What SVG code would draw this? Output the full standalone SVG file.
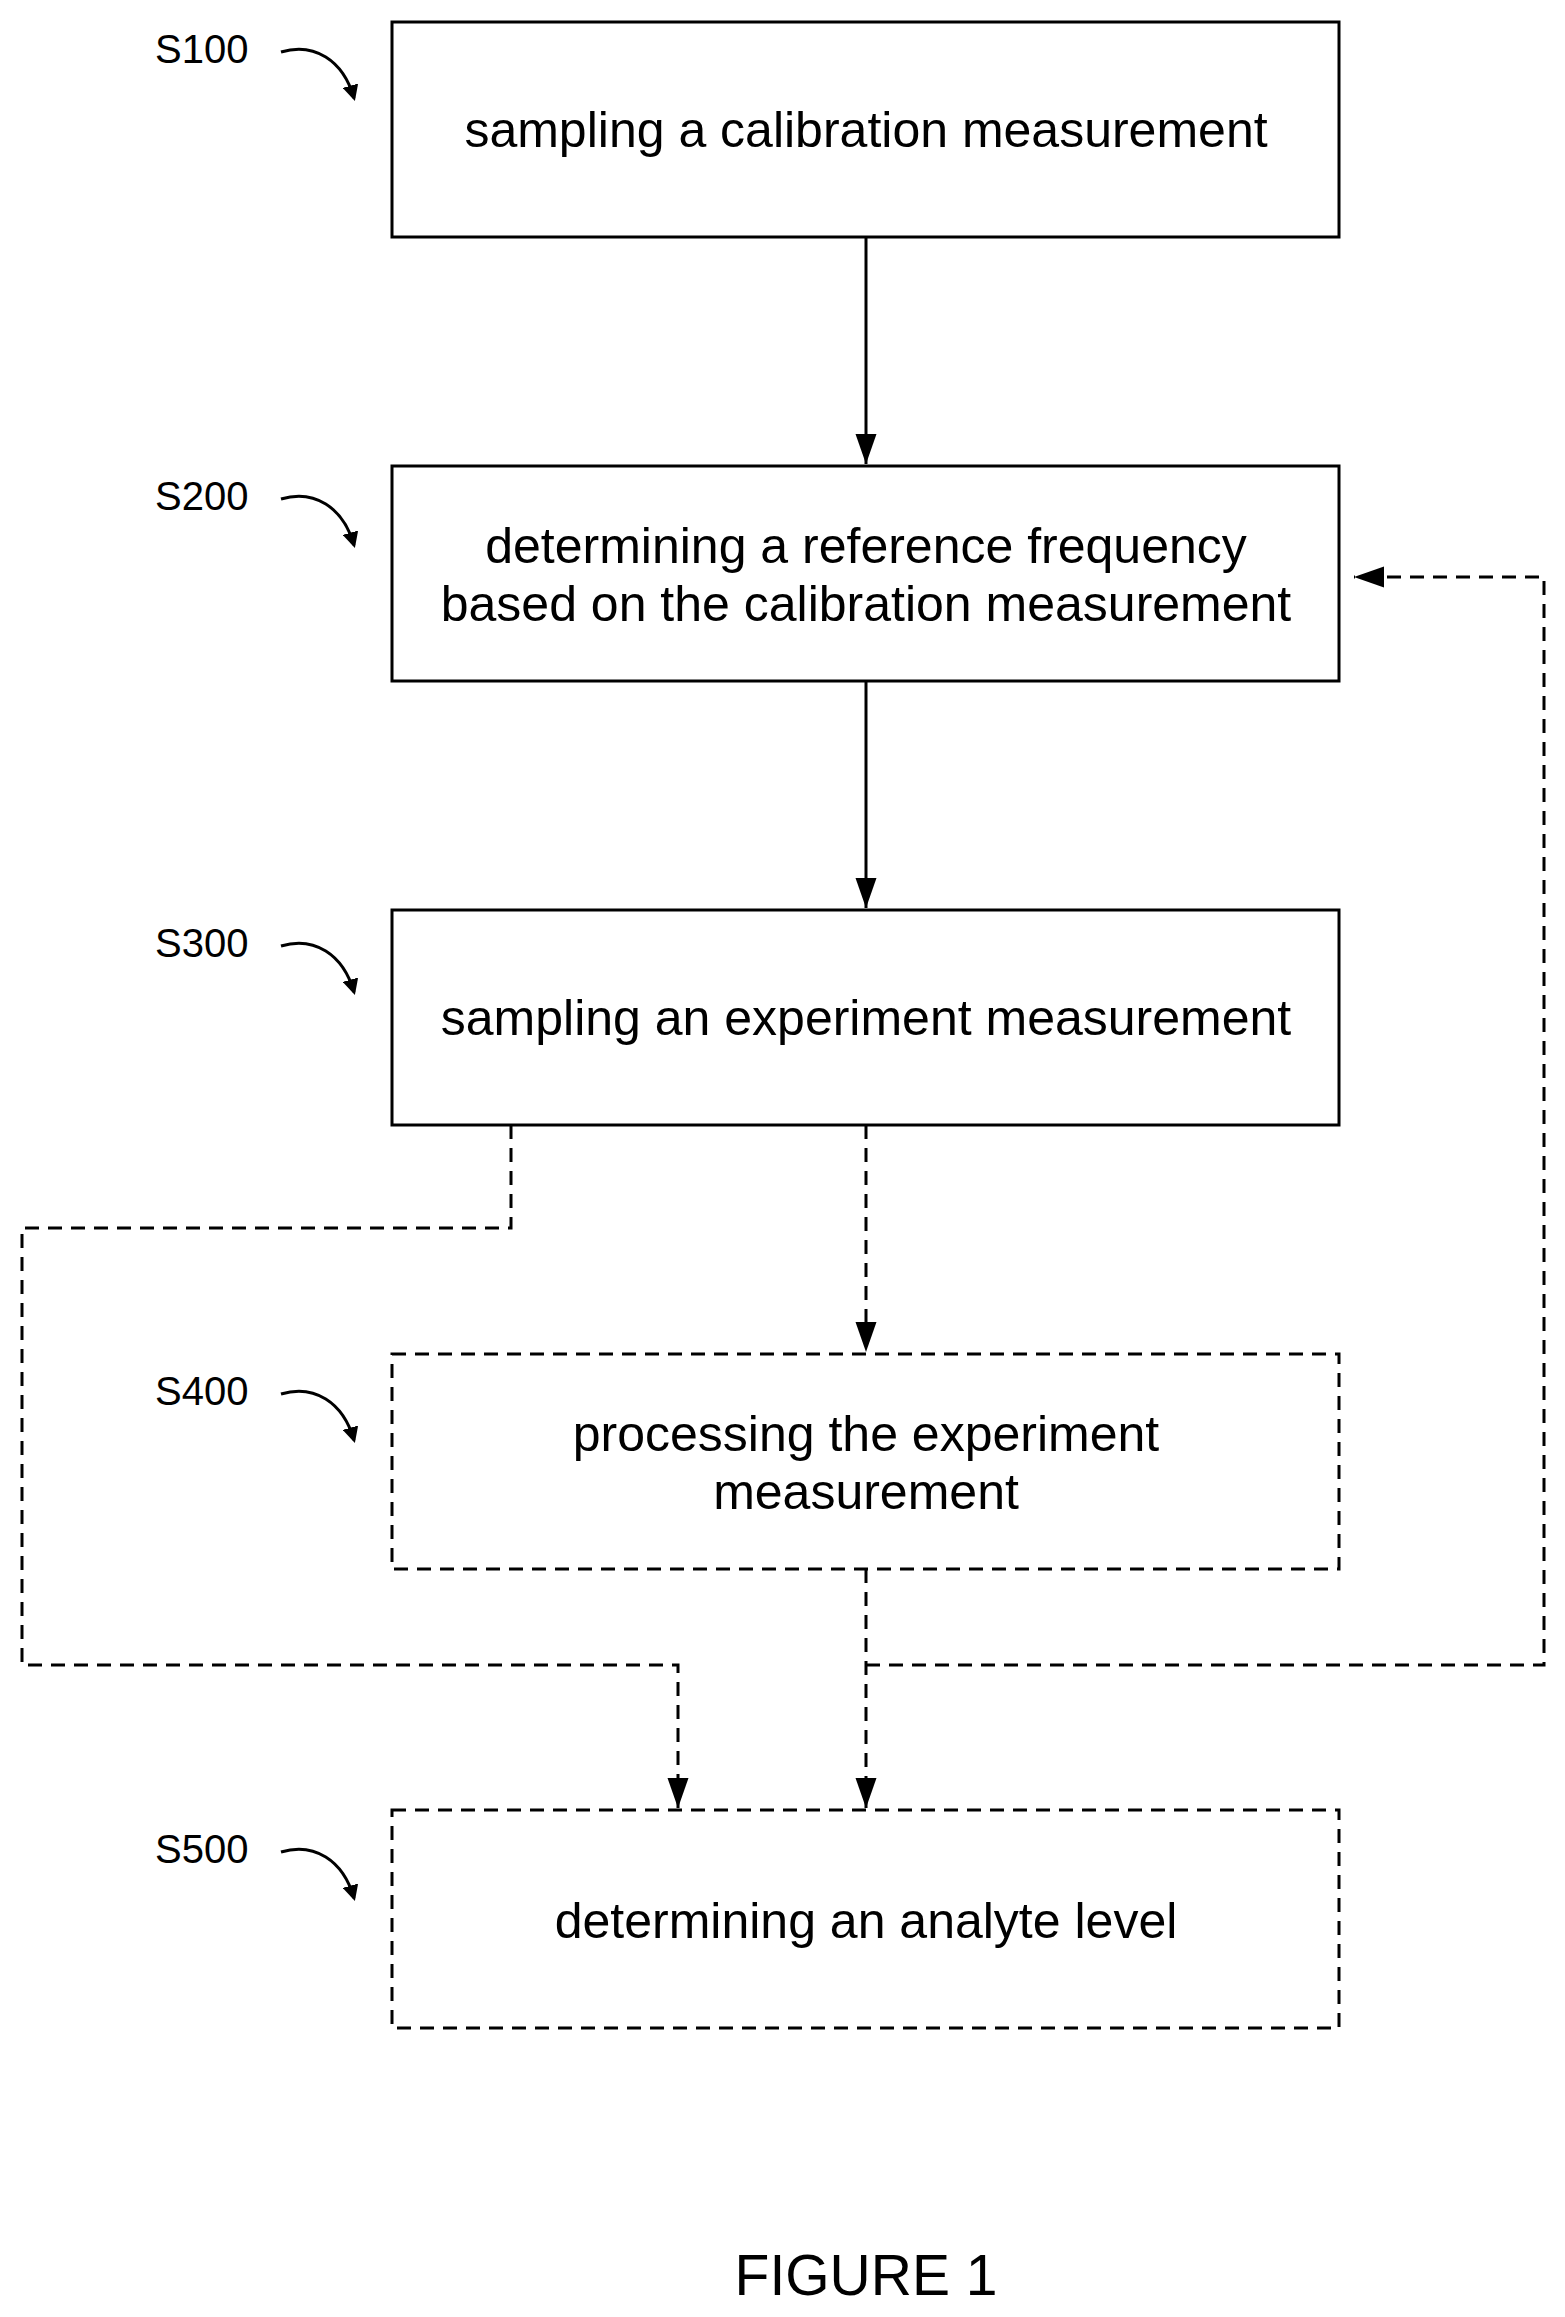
<svg xmlns="http://www.w3.org/2000/svg" width="1565" height="2317" viewBox="0 0 1565 2317">
<style>
.box{fill:#fff;stroke:#000;stroke-width:3}
.dbox{fill:#fff;stroke:#000;stroke-width:3;stroke-dasharray:14 9}
.t{font-family:"Liberation Sans",Arial,sans-serif;font-size:50px;text-anchor:middle;fill:#000}
.lbl{font-family:"Liberation Sans",Arial,sans-serif;font-size:40px;fill:#000}
.c{fill:none;stroke:#000;stroke-width:3}
.d{fill:none;stroke:#000;stroke-width:3;stroke-dasharray:14 9}
.cur{fill:none;stroke:#000;stroke-width:3}
</style>
<defs>
<marker id="a" viewBox="0 0 10 10" refX="10" refY="5" markerWidth="30" markerHeight="30" markerUnits="userSpaceOnUse" orient="auto"><path d="M0,1.5L10,5L0,8.5z" fill="#000"/></marker>
<marker id="sa" viewBox="0 0 10 10" refX="8" refY="5" markerWidth="16" markerHeight="16" markerUnits="userSpaceOnUse" orient="auto"><path d="M0,0L10,5L0,10z" fill="#000"/></marker>
</defs>
<g id="connectors">
<line class="c" x1="866" y1="237" x2="866" y2="464" marker-end="url(#a)"/>
<line class="c" x1="866" y1="681" x2="866" y2="908" marker-end="url(#a)"/>
<line class="d" x1="866" y1="1125" x2="866" y2="1352" marker-end="url(#a)"/>
<polyline class="d" points="511,1125 511,1228 22,1228 22,1665 678,1665 678,1808" marker-end="url(#a)"/>
<line class="d" x1="866" y1="1569" x2="866" y2="1808" marker-end="url(#a)"/>
<polyline class="d" points="866,1665 1544,1665 1544,577 1354,577" marker-end="url(#a)"/>
</g>
<g id="S100"><rect class="box" x="392" y="22" width="947" height="215"/><text class="t" x="866" y="147">sampling a calibration measurement</text><text class="lbl" x="155" y="63">S100</text><path class="cur" d="M281,52 C314,42 343,60 354,98" marker-end="url(#sa)"/></g>
<g id="S200"><rect class="box" x="392" y="466" width="947" height="215"/><text class="t" x="866" y="563">determining a reference frequency</text><text class="t" x="866" y="621">based on the calibration measurement</text><text class="lbl" x="155" y="510">S200</text><path class="cur" d="M281,499 C314,489 343,507 354,545" marker-end="url(#sa)"/></g>
<g id="S300"><rect class="box" x="392" y="910" width="947" height="215"/><text class="t" x="866" y="1035">sampling an experiment measurement</text><text class="lbl" x="155" y="957">S300</text><path class="cur" d="M281,946 C314,936 343,954 354,992" marker-end="url(#sa)"/></g>
<g id="S400"><rect class="dbox" x="392" y="1354" width="947" height="215"/><text class="t" x="866" y="1451">processing the experiment</text><text class="t" x="866" y="1509">measurement</text><text class="lbl" x="155" y="1405">S400</text><path class="cur" d="M281,1394 C314,1384 343,1402 354,1440" marker-end="url(#sa)"/></g>
<g id="S500"><rect class="dbox" x="392" y="1810" width="947" height="218"/><text class="t" x="866" y="1938">determining an analyte level</text><text class="lbl" x="155" y="1863">S500</text><path class="cur" d="M281,1852 C314,1842 343,1860 354,1898" marker-end="url(#sa)"/></g>
<text class="t" x="866" y="2295" style="font-size:57px">FIGURE 1</text>
</svg>
